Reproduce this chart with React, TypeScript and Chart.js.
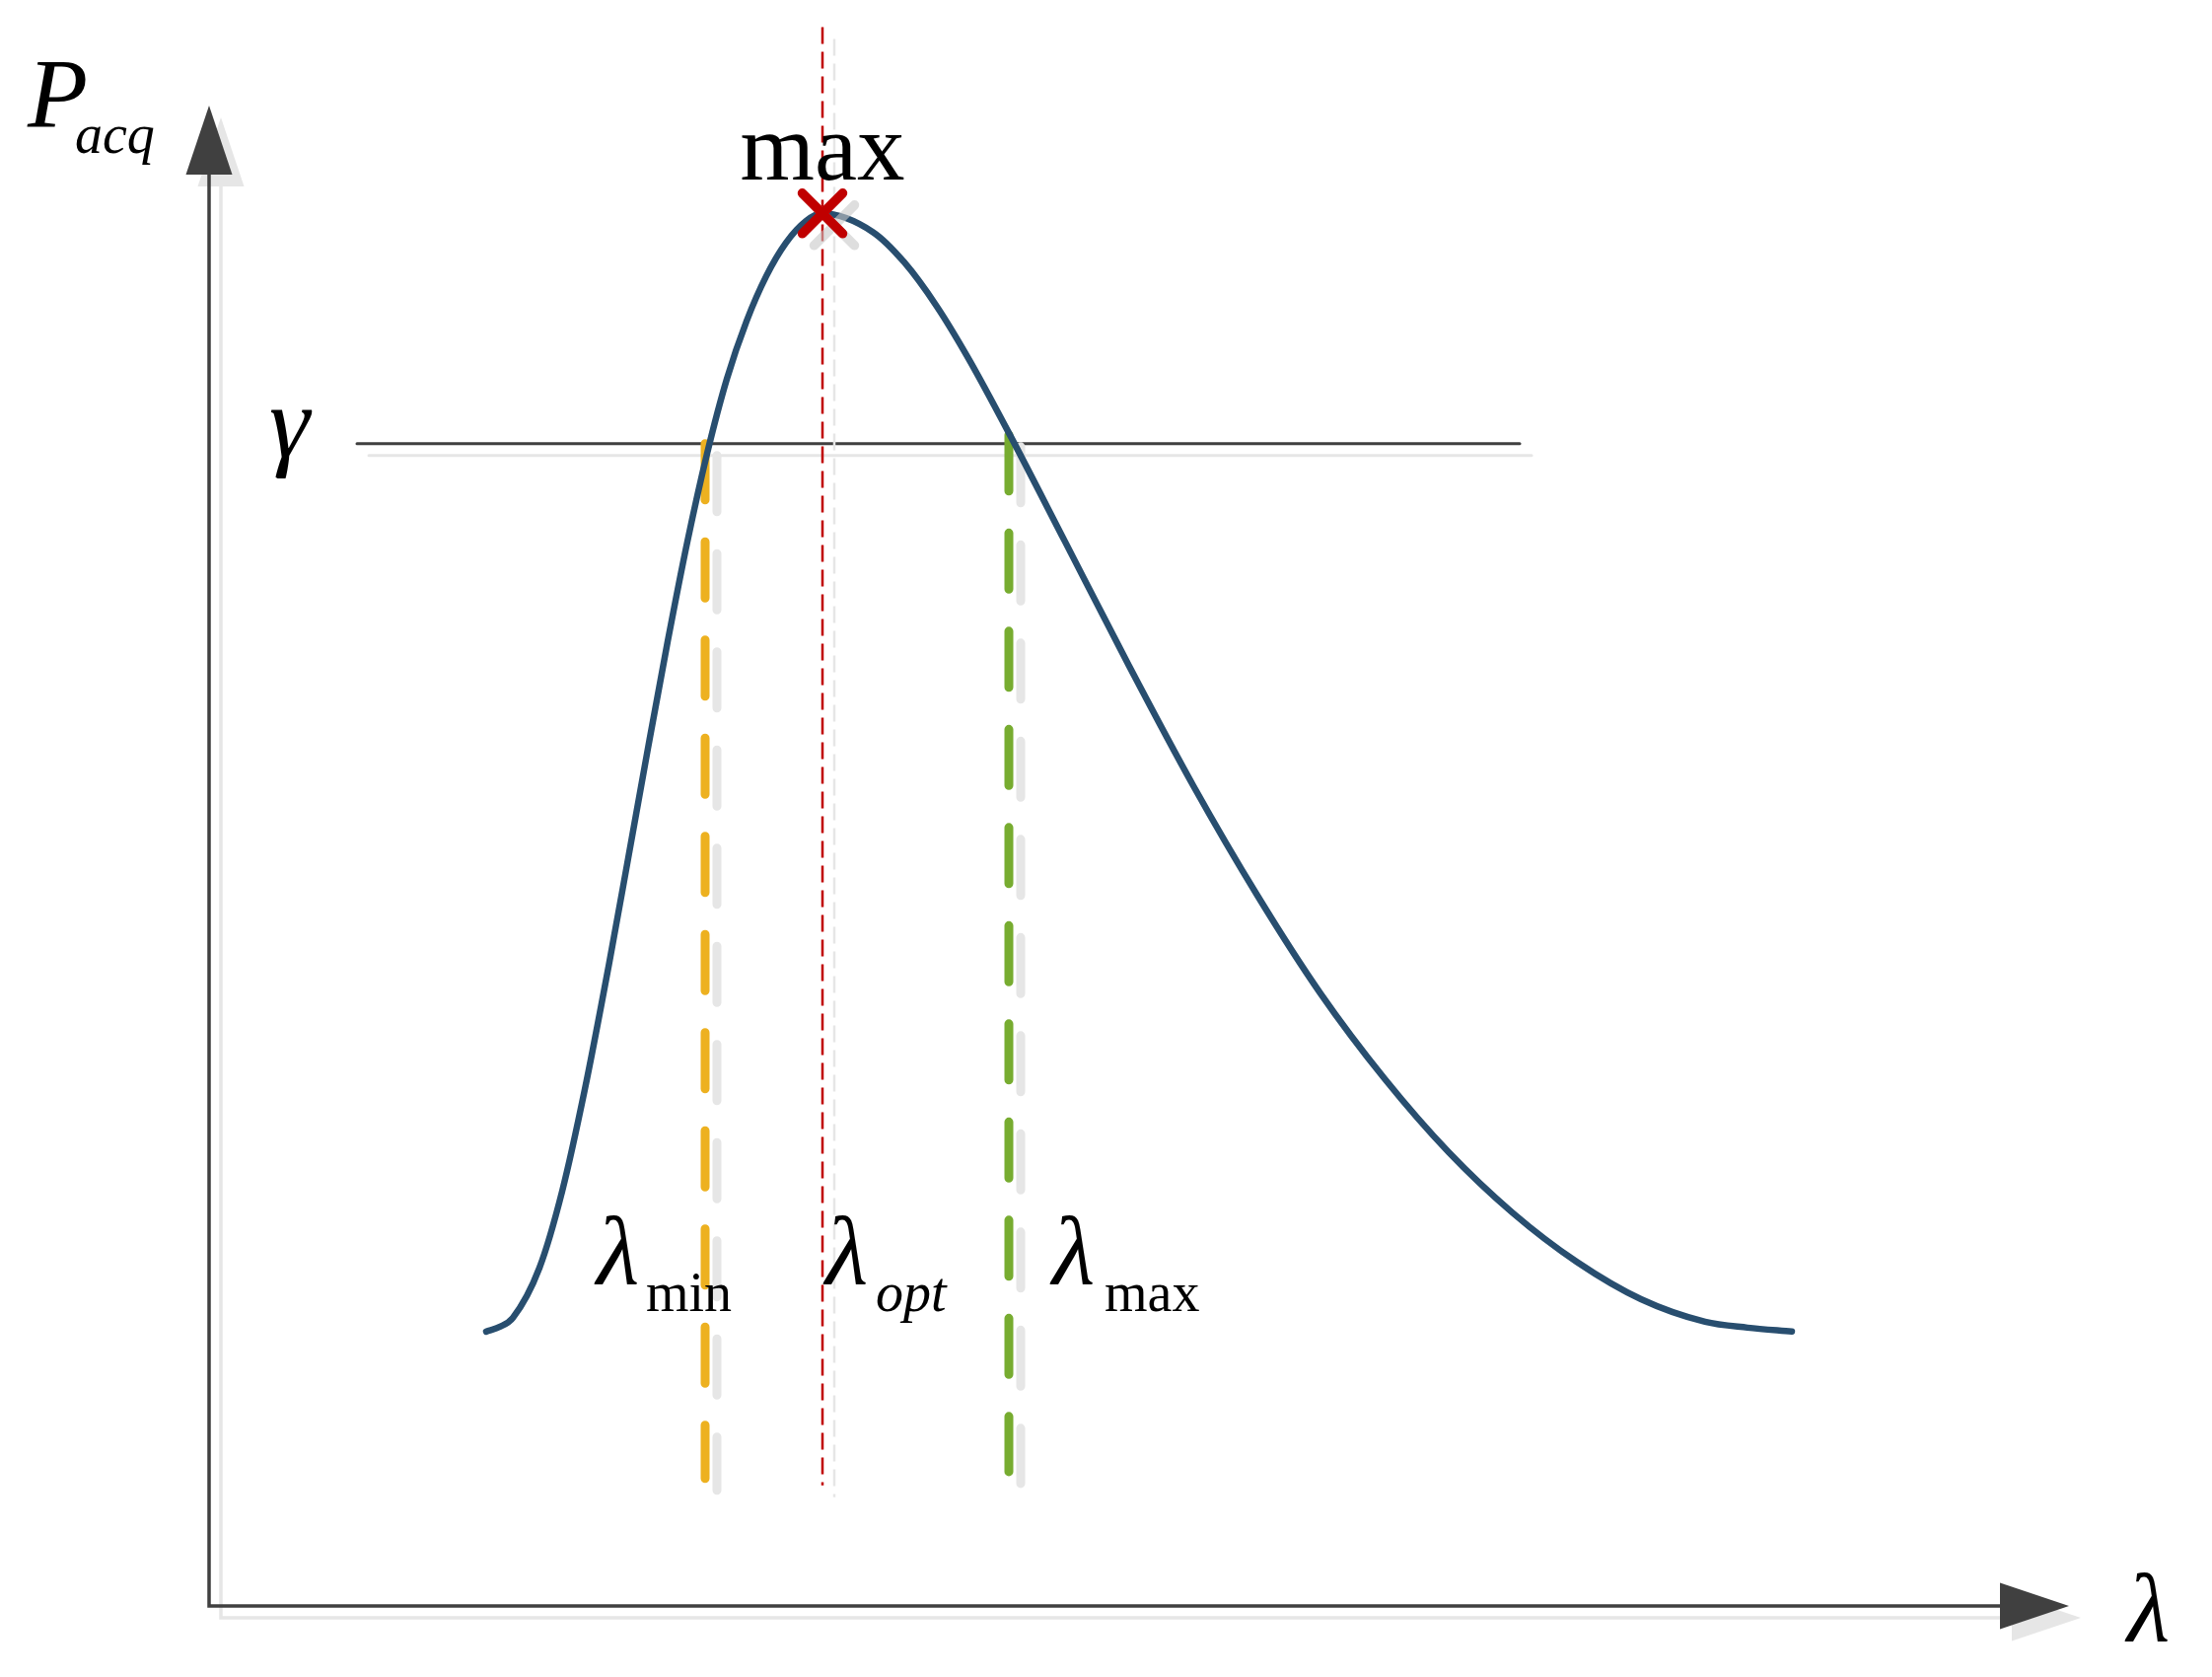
import React, { useEffect, useRef } from 'react';
import { Chart, registerables } from 'chart.js';

Chart.register(...registerables);

// ---------------- data (axis units) ----------------
const lambdaValues = [
  2.81, 2.95, 3.08, 3.35, 3.58, 3.81, 4.05, 4.25, 4.45, 4.65, 4.85, 5.05, 5.25, 5.45, 5.65, 5.85, 6.05, 6.21,
  6.73, 7.05, 7.38, 7.7, 8.11, 8.68, 9.33, 9.98, 10.63, 11.27, 11.92, 12.57, 13.22, 13.87, 14.52, 15.17, 15.6, 16.05,
];
const pAcqValues = [
  2.8, 2.85, 2.94, 3.45, 4.23, 5.27, 6.52, 7.63, 8.75, 9.84, 10.86, 11.76, 12.52, 13.11, 13.57, 13.91, 14.13, 14.21,
  14.02, 13.71, 13.26, 12.73, 11.97, 10.86, 9.59, 8.37, 7.25, 6.25, 5.38, 4.63, 4.01, 3.51, 3.13, 2.9, 2.84, 2.8,
];
const gammaLevel = 11.86;
const gammaSpan = [1.5, 13.29];
const lambdaMin = 5.03;
const lambdaOpt = 6.22;
const lambdaMax = 8.11;
const pAcqMax = 14.21;
const lambdaMinSpan = [11.86, 1.3];
const lambdaOptSpan = [16.11, 1.23];
const lambdaMaxSpan = [11.95, 1.37];
const axisEnds = [18.16, 14.61]; // x-axis end, y-axis end (arrow bases)
const arrowTips = [18.86, 15.31]; // x-axis tip, y-axis tip

// ---------------- text ----------------
const mainTexts = ['P', 'max', 'γ', 'λ', 'λ', 'λ', 'λ'];
const subTexts = ['acq', '', '', '', 'min', 'opt', 'max'];

// ---------------- layout / style ----------------
const W = 2243;
const H = 1700;
const SHADOW = 12;
const SHADOW_COLOR = '#e6e6e6';
const AXIS_COLOR = '#404040';
const FONT = "'Liberation Serif', 'Times New Roman', serif";
const labelLayout = [
  { x: -1.84, y: 15.1, italic: true, subItalic: true, subDx: 48, subDy: 27, size: 100, align: 'left' },
  { x: lambdaOpt, y: 14.56, italic: false, subItalic: false, subDx: 0, subDy: 0, size: 97, align: 'center' },
  { x: 0.61, y: 11.73, italic: true, subItalic: false, subDx: 0, subDy: 0, size: 104, align: 'left' },
  { x: 19.45, y: -0.36, italic: true, subItalic: false, subDx: 0, subDy: 0, size: 100, align: 'left' },
  { x: 3.93, y: 3.28, italic: true, subItalic: false, subDx: 50, subDy: 27, size: 100, align: 'left' },
  { x: 6.25, y: 3.28, italic: true, subItalic: true, subDx: 51, subDy: 27, size: 100, align: 'left' },
  { x: 8.55, y: 3.28, italic: true, subItalic: false, subDx: 53, subDy: 27, size: 100, align: 'left' },
];
const SUB_SIZE = 56;

function drawArrow(ctx: CanvasRenderingContext2D, tx: number, ty: number, dir: 'up' | 'right', color: string) {
  const len = 70;
  const half = 23.5;
  ctx.beginPath();
  if (dir === 'up') {
    ctx.moveTo(tx, ty);
    ctx.lineTo(tx - half, ty + len);
    ctx.lineTo(tx + half, ty + len);
  } else {
    ctx.moveTo(tx, ty);
    ctx.lineTo(tx - len, ty - half);
    ctx.lineTo(tx - len, ty + half);
  }
  ctx.closePath();
  ctx.fillStyle = color;
  ctx.fill();
}

const shadowPlugin = {
  id: 'objShadow',
  beforeDatasetDraw(chart: any, args: any) {
    const ds: any = chart.data.datasets[args.index];
    const ctx = chart.ctx;
    ctx.save();
    if (ds.shadowColor) {
      ctx.shadowColor = ds.shadowColor;
      ctx.shadowOffsetX = SHADOW;
      ctx.shadowOffsetY = SHADOW;
      ctx.shadowBlur = 0;
    }
    if (ds.roundPoint) ctx.lineCap = 'round';
  },
  afterDatasetDraw(chart: any) {
    chart.ctx.restore();
  },
};

const decorPlugin = {
  id: 'decor',
  beforeDatasetsDraw(chart: any) {
    const { ctx, scales } = chart;
    const x0 = scales.x.getPixelForValue(0);
    const y0 = scales.y.getPixelForValue(0);
    drawArrow(ctx, x0 + SHADOW, scales.y.getPixelForValue(arrowTips[1]) + SHADOW, 'up', SHADOW_COLOR);
    drawArrow(ctx, scales.x.getPixelForValue(arrowTips[0]) + SHADOW, y0 + SHADOW, 'right', SHADOW_COLOR);
  },
  afterDatasetsDraw(chart: any) {
    const { ctx, scales } = chart;
    const x0 = scales.x.getPixelForValue(0);
    const y0 = scales.y.getPixelForValue(0);
    drawArrow(ctx, x0, scales.y.getPixelForValue(arrowTips[1]), 'up', AXIS_COLOR);
    drawArrow(ctx, scales.x.getPixelForValue(arrowTips[0]), y0, 'right', AXIS_COLOR);

    ctx.save();
    ctx.fillStyle = '#000';
    ctx.textBaseline = 'alphabetic';
    labelLayout.forEach((l, i) => {
      const px = scales.x.getPixelForValue(l.x);
      const py = scales.y.getPixelForValue(l.y);
      ctx.font = `${l.italic ? 'italic ' : ''}${l.size}px ${FONT}`;
      ctx.textAlign = l.align as CanvasTextAlign;
      ctx.fillText(mainTexts[i], px, py);
      if (subTexts[i]) {
        ctx.textAlign = 'left';
        ctx.font = `${l.subItalic ? 'italic ' : ''}${SUB_SIZE}px ${FONT}`;
        ctx.fillText(subTexts[i], px + l.subDx, py + l.subDy);
      }
    });
    ctx.restore();
  },
};

export default function App() {
  const ref = useRef<HTMLCanvasElement>(null);
  useEffect(() => {
    const curve = lambdaValues.map((x, i) => ({ x, y: pAcqValues[i] }));
    const vline = (x: number, span: number[]) => span.map((y) => ({ x, y }));
    const chart = new Chart(ref.current as HTMLCanvasElement, {
      type: 'scatter',
      data: {
        datasets: [
          {
            data: [
              { x: 0, y: axisEnds[1] },
              { x: 0, y: 0 },
              { x: axisEnds[0], y: 0 },
            ],
            showLine: true,
            borderColor: AXIS_COLOR,
            borderWidth: 3.5,
            borderJoinStyle: 'miter',
            pointRadius: 0,
            order: 10,
            clip: false,
            shadowColor: SHADOW_COLOR,
          } as any,
          {
            data: gammaSpan.map((x) => ({ x, y: gammaLevel })),
            showLine: true,
            borderColor: AXIS_COLOR,
            borderWidth: 3,
            borderCapStyle: 'round',
            pointRadius: 0,
            order: 9,
            clip: false,
            shadowColor: SHADOW_COLOR,
          } as any,
          {
            data: vline(lambdaMin, lambdaMinSpan),
            showLine: true,
            borderColor: '#EDB120',
            borderWidth: 9,
            borderDash: [57, 42.5],
            borderCapStyle: 'round',
            pointRadius: 0,
            order: 8,
            clip: false,
            shadowColor: SHADOW_COLOR,
          } as any,
          {
            data: vline(lambdaMax, lambdaMaxSpan),
            showLine: true,
            borderColor: '#77AC30',
            borderWidth: 9,
            borderDash: [57, 42.5],
            borderCapStyle: 'round',
            pointRadius: 0,
            order: 7,
            clip: false,
            shadowColor: SHADOW_COLOR,
          } as any,
          {
            data: vline(lambdaOpt, lambdaOptSpan),
            showLine: true,
            borderColor: '#C00000',
            borderWidth: 2.5,
            borderDash: [17, 8],
            pointRadius: 0,
            order: 6,
            clip: false,
            shadowColor: SHADOW_COLOR,
          } as any,
          {
            data: curve,
            showLine: true,
            borderColor: '#284E6F',
            borderWidth: 6.5,
            borderCapStyle: 'round',
            borderJoinStyle: 'round',
            cubicInterpolationMode: 'monotone',
            pointRadius: 0,
            order: 2,
            clip: false,
          } as any,
          {
            data: [{ x: lambdaOpt, y: pAcqMax }],
            showLine: false,
            pointStyle: 'crossRot',
            pointRadius: 29,
            pointBorderWidth: 9.5,
            pointBorderColor: '#C00000',
            pointBackgroundColor: '#C00000',
            order: 1,
            clip: false,
            shadowColor: 'rgba(200,200,200,0.6)',
            roundPoint: true,
          } as any,
        ],
      },
      options: {
        responsive: false,
        devicePixelRatio: 1,
        animation: false,
        events: [],
        layout: { padding: { left: 212, right: 131, top: 28, bottom: 72 } },
        plugins: { legend: { display: false }, tooltip: { enabled: false }, title: { display: false } },
        scales: {
          x: { type: 'linear', min: 0, max: 19, display: false },
          y: { type: 'linear', min: 0, max: 16, display: false },
        },
      },
      plugins: [shadowPlugin, decorPlugin],
    });
    return () => chart.destroy();
  }, []);
  return (
    <div style={{ position: 'absolute', left: 0, top: 0, width: W, height: H, background: '#fff' }}>
      <canvas ref={ref} width={W} height={H} style={{ display: 'block', width: W, height: H }} />
    </div>
  );
}
